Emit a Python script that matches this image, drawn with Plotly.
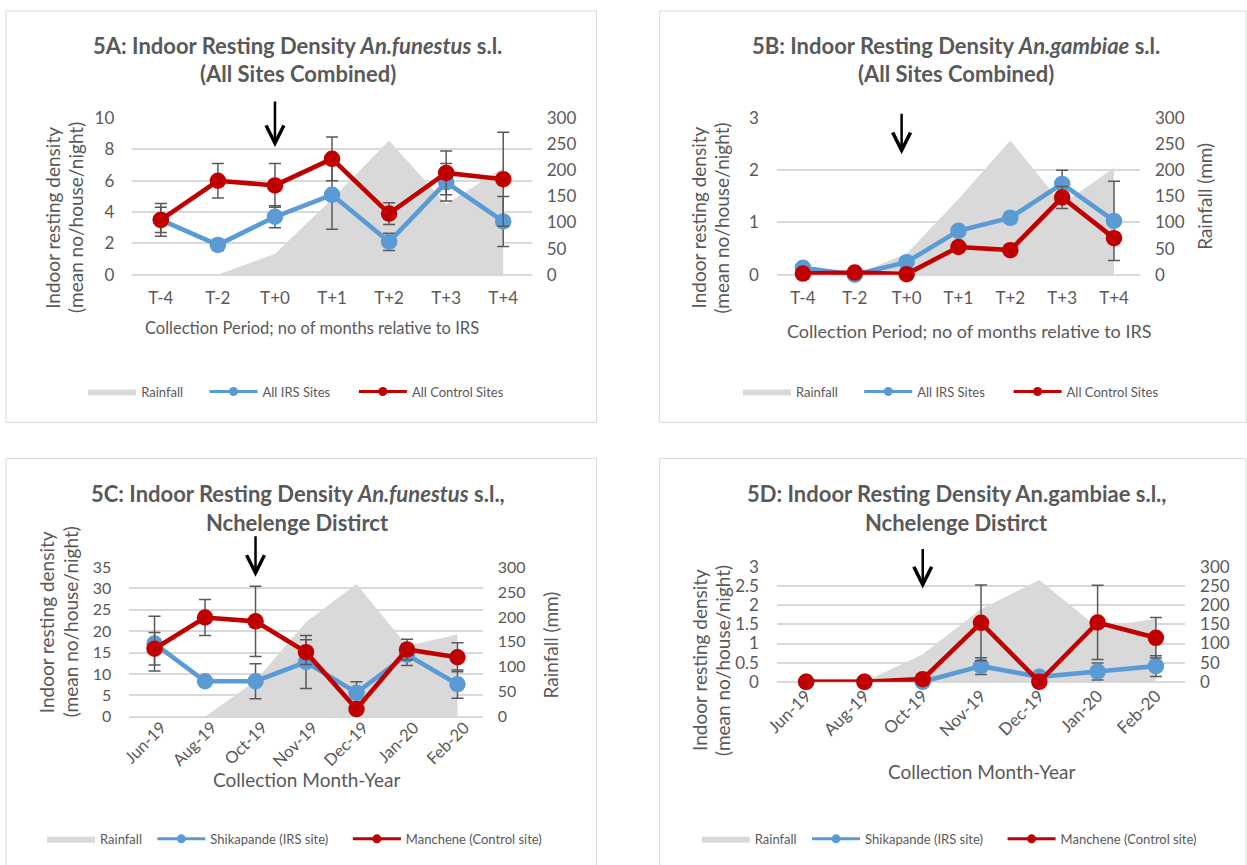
import plotly.graph_objects as go

# ---------------- data ----------------
periods = ["T-4", "T-2", "T+0", "T+1", "T+2", "T+3", "T+4"]
months = ["Jun-19", "Aug-19", "Oct-19", "Nov-19", "Dec-19", "Jan-20", "Feb-20"]

rain_all_sites = [0, 0, 40, 145, 257, 135, 205]
rain_nchelenge = [0, 0, 72, 190, 266, 142, 165]

funestus_irs = [3.5, 1.9, 3.7, 5.1, 2.1, 5.9, 3.4]
funestus_irs_err = [0.8, 0.35, 0.7, 2.2, 0.55, 1.2, 1.6]
funestus_ctrl = [3.5, 6.0, 5.7, 7.4, 3.9, 6.5, 6.1]
funestus_ctrl_err = [1.05, 1.1, 1.4, 1.4, 0.7, 1.4, 3.0]

gambiae_irs = [0.13, 0.0, 0.24, 0.84, 1.09, 1.74, 1.03]
gambiae_irs_err = [0.03, 0.02, 0.05, 0.09, 0.1, 0.26, 0.76]
gambiae_ctrl = [0.02, 0.04, 0.01, 0.53, 0.47, 1.48, 0.70]
gambiae_ctrl_err = [0.02, 0.02, 0.01, 0.05, 0.05, 0.21, 0.1]

shik_funestus = [17.1, 8.3, 8.3, 12.8, 5.6, 14.5, 7.6]
shik_funestus_err = [6.4, 0.5, 4.1, 6.2, 2.6, 2.5, 3.3]
manch_funestus = [15.9, 23.2, 22.3, 15.1, 1.8, 15.7, 13.9]
manch_funestus_err = [3.8, 4.2, 8.2, 2.9, 0.5, 2.4, 3.4]

shik_gambiae = [0, 0, 0, 0.41, 0.13, 0.27, 0.41]
shik_gambiae_err = [0, 0, 0, 0.22, 0.05, 0.22, 0.27]
manch_gambiae = [0, 0, 0.07, 1.54, 0, 1.55, 1.15]
manch_gambiae_err = [0, 0, 0, 0.99, 0, 0.97, 0.53]

# ---------------- style ----------------
W, H = 1247, 865
FONT = "Lato"
TXT = "#595959"
BLUE = "#5B9BD5"
RED = "#C00000"
AREA = "#D9D9D9"
GRID = "#D9D9D9"
ERR = "#595959"

# page-placement correction (target pixel -> figure pixel)
OX, SX = 14.0, 0.987
OY, SY = 10.0, 0.977


def px(x):
    return ((x - OX) / SX) / W


def py(y):
    return 1 - ((y - OY) / SY) / H


panels = [
    dict(title1="5A: Indoor Resting Density <i>An.funestus</i> s.l.", title2="(All Sites Combined)",
         cats=periods, rain=rain_all_sites,
         irs=funestus_irs, irs_err=funestus_irs_err, ctrl=funestus_ctrl, ctrl_err=funestus_ctrl_err,
         irs_name="All IRS Sites", ctrl_name="All Control Sites",
         drange=[0, 10], dtick=2, xpx=(133, 531.4), ypx=(117.3, 274), angle=0,
         standoff=11, shift=0, tfs=17, xtfs=17,
         box=(7, 10, 596, 422), tcx=298, ty=(45, 73),
         xtitle="Collection Period; no of months relative to IRS", xt=(312, 327), xfs=16.5,
         ylt=(54, 77, 217), yfs=19, rtitle=None, leg=(94, 215, 364, 391), arrow=(8.15, 47, 0)),
    dict(title1="5B: Indoor Resting Density <i>An.gambiae</i> s.l.", title2="(All Sites Combined)",
         cats=periods, rain=rain_all_sites,
         irs=gambiae_irs, irs_err=gambiae_irs_err, ctrl=gambiae_ctrl, ctrl_err=gambiae_ctrl_err,
         irs_name="All IRS Sites", ctrl_name="All Control Sites",
         drange=[0, 3], dtick=1, xpx=(776, 1138), ypx=(117.3, 274), angle=0,
         standoff=11, shift=0, tfs=17, xtfs=17,
         box=(659, 10, 1244, 422), tcx=955, ty=(45, 73),
         xtitle="Collection Period; no of months relative to IRS", xt=(968, 330), xfs=18,
         ylt=(698, 721, 217), yfs=19, rtitle=(1203, 196), leg=(747, 868, 1017, 391),
         arrow=(2.31, 42, -5)),
    dict(title1="5C: Indoor Resting Density <i>An.funestus</i> s.l.,", title2="Nchelenge Distirct",
         cats=months, rain=rain_nchelenge,
         irs=shik_funestus, irs_err=shik_funestus_err, ctrl=manch_funestus, ctrl_err=manch_funestus_err,
         irs_name="Shikapande (IRS site)", ctrl_name="Manchene (Control site)",
         drange=[0, 35], dtick=5, xpx=(130, 482.5), ypx=(566.7, 716.7), angle=-45,
         standoff=-3, shift=7, tfs=16, xtfs=16.5,
         box=(7, 458, 596, 875), tcx=298, ty=(493, 522),
         xtitle="Collection Month-Year", xt=(307, 780), xfs=19,
         ylt=(47, 71, 622), yfs=19, rtitle=(550, 645), leg=(53, 163, 358, 839), arrow=(32.7, 42, 0)),
    dict(title1="5D: Indoor Resting Density An.gambiae s.l.,", title2="Nchelenge Distirct",
         cats=months, rain=rain_nchelenge,
         irs=shik_gambiae, irs_err=shik_gambiae_err, ctrl=manch_gambiae, ctrl_err=manch_gambiae_err,
         irs_name="Shikapande (IRS site)", ctrl_name="Manchene (Control site)",
         drange=[0, 3], dtick=0.5, xpx=(776, 1183), ypx=(566.7, 681.7), angle=-45,
         standoff=0, shift=0, tfs=17, xtfs=17,
         box=(659, 458, 1244, 875), tcx=955, ty=(493, 522),
         xtitle="Collection Month-Year", xt=(980, 771), xfs=19,
         ylt=(698, 721, 660), yfs=19, rtitle=None, leg=(706, 816, 1011, 839), arrow=(2.44, 41, 0)),
]

fig = go.Figure()
layout = dict(
    width=W, height=H, margin=dict(l=0, r=0, t=0, b=0),
    paper_bgcolor="white", plot_bgcolor="rgba(0,0,0,0)",
    font=dict(family=FONT, color=TXT, size=15),
    shapes=[], annotations=[],
)

leg_count = 0

for i, p in enumerate(panels):
    xname = "xaxis" if i == 0 else f"xaxis{i + 1}"
    xid = "x" if i == 0 else f"x{i + 1}"
    r_n = 2 * i + 1
    d_n = 2 * i + 2
    rname = "yaxis" if r_n == 1 else f"yaxis{r_n}"
    rid = "y" if r_n == 1 else f"y{r_n}"
    dname = f"yaxis{d_n}"
    did = f"y{d_n}"
    tickfont = dict(family=FONT, size=p["tfs"], color=TXT)

    x0, x1 = p["xpx"]
    ytop, ybot = p["ypx"]

    layout[xname] = dict(
        domain=[px(x0), px(x1)], anchor=rid, type="category",
        categoryorder="array", categoryarray=p["cats"], range=[-0.5, 6.5],
        showgrid=False, zeroline=False, showline=False, ticks="",
        tickangle=p["angle"], tickfont=dict(family=FONT, size=p["xtfs"], color=TXT),
        ticklabelstandoff=p["standoff"], ticklabelshift=p["shift"],
        fixedrange=True,
    )
    layout[rname] = dict(
        domain=[py(ybot), py(ytop)], anchor=xid, side="right",
        range=[0, 300], dtick=50, showgrid=False, zeroline=False, showline=False,
        ticks="", tickfont=tickfont, ticklabelstandoff=14, fixedrange=True,
    )
    layout[dname] = dict(
        overlaying=rid, anchor=xid, side="left",
        range=p["drange"], dtick=p["dtick"], showgrid=True, gridcolor=GRID, gridwidth=1.5,
        zeroline=True, zerolinecolor=GRID, zerolinewidth=1.5, showline=False,
        ticks="", tickfont=tickfont, ticklabelstandoff=17, fixedrange=True,
    )

    lx_rain, lx_irs, lx_ctrl, ly = p["leg"]
    legnames = []
    for lx in (lx_rain, lx_irs, lx_ctrl):
        leg_count += 1
        ln = "legend" if leg_count == 1 else f"legend{leg_count}"
        legnames.append(ln)
        layout[ln] = dict(
            orientation="h", x=px(lx - 10), y=py(ly), xanchor="left", yanchor="middle",
            font=dict(family=FONT, size=13, color=TXT), bgcolor="rgba(0,0,0,0)", itemwidth=48,
        )

    # rainfall area (right axis)
    fig.add_trace(go.Scatter(
        x=p["cats"], y=p["rain"], name="Rainfall", xaxis=xid, yaxis=rid,
        mode="lines", line=dict(width=0, color=AREA), fill="tozeroy", fillcolor=AREA,
        legend=legnames[0], showlegend=True, hoverinfo="skip",
    ))
    # density series (left axis)
    for vals, errs, col, nm, ln in [(p["irs"], p["irs_err"], BLUE, p["irs_name"], legnames[1]),
                                    (p["ctrl"], p["ctrl_err"], RED, p["ctrl_name"], legnames[2])]:
        fig.add_trace(go.Scatter(
            x=p["cats"], y=vals, xaxis=xid, yaxis=did, mode="lines+markers",
            line=dict(color=col, width=4.6), marker=dict(color=col, size=16.5),
            error_y=dict(type="data", array=errs, visible=True, color=ERR, thickness=1.5, width=6),
            showlegend=False, name=nm, cliponaxis=False,
        ))
        # legend entry (smaller symbol like the original legend)
        fig.add_trace(go.Scatter(
            x=[None], y=[None], xaxis=xid, yaxis=did, mode="lines+markers", name=nm,
            line=dict(color=col, width=3), marker=dict(color=col, size=9),
            legend=ln, showlegend=True,
        ))

    # chart box
    bx0, by0, bx1, by1 = p["box"]
    layout["shapes"].append(dict(type="rect", xref="paper", yref="paper",
                                 x0=px(bx0), x1=px(bx1), y0=py(by1), y1=py(by0),
                                 line=dict(color="#D9D9D9", width=1), layer="below"))

    # titles
    for txt, yy in [(p["title1"], p["ty"][0]), (p["title2"], p["ty"][1])]:
        layout["annotations"].append(dict(
            text="<b>" + txt + "</b>", x=px(p["tcx"]), y=py(yy), xref="paper", yref="paper",
            xanchor="center", yanchor="middle", showarrow=False,
            font=dict(family=FONT, size=22, color=TXT)))
    # x axis title
    layout["annotations"].append(dict(
        text=p["xtitle"], x=px(p["xt"][0]), y=py(p["xt"][1]), xref="paper", yref="paper",
        xanchor="center", yanchor="middle", showarrow=False,
        font=dict(family=FONT, size=p["xfs"], color=TXT)))
    # left axis title (two lines)
    for txt, xx in [("Indoor resting density", p["ylt"][0]), ("(mean no/house/night)", p["ylt"][1])]:
        layout["annotations"].append(dict(
            text=txt, x=px(xx), y=py(p["ylt"][2]), xref="paper", yref="paper", textangle=-90,
            xanchor="center", yanchor="middle", showarrow=False,
            font=dict(family=FONT, size=p["yfs"], color=TXT)))
    # right axis title
    if p["rtitle"]:
        layout["annotations"].append(dict(
            text="Rainfall (mm)", x=px(p["rtitle"][0]), y=py(p["rtitle"][1]), xref="paper", yref="paper",
            textangle=-90, xanchor="center", yanchor="middle", showarrow=False,
            font=dict(family=FONT, size=19, color=TXT)))
    # IRS arrow at T+0 / Oct-19
    tip, length, shift = p["arrow"]
    layout["annotations"].append(dict(
        text="", x=p["cats"][2], y=tip, xref=xid, yref=did, xshift=shift,
        showarrow=True, ax=0, ay=-length, arrowhead=5, arrowwidth=2.5, arrowsize=1.4,
        arrowcolor="black"))

fig.update_layout(**layout)
fig.write_html(
    "out.html",
    config={"displayModeBar": False},
    post_script="document.body.style.margin='0px';document.body.style.overflow='hidden';",
)
